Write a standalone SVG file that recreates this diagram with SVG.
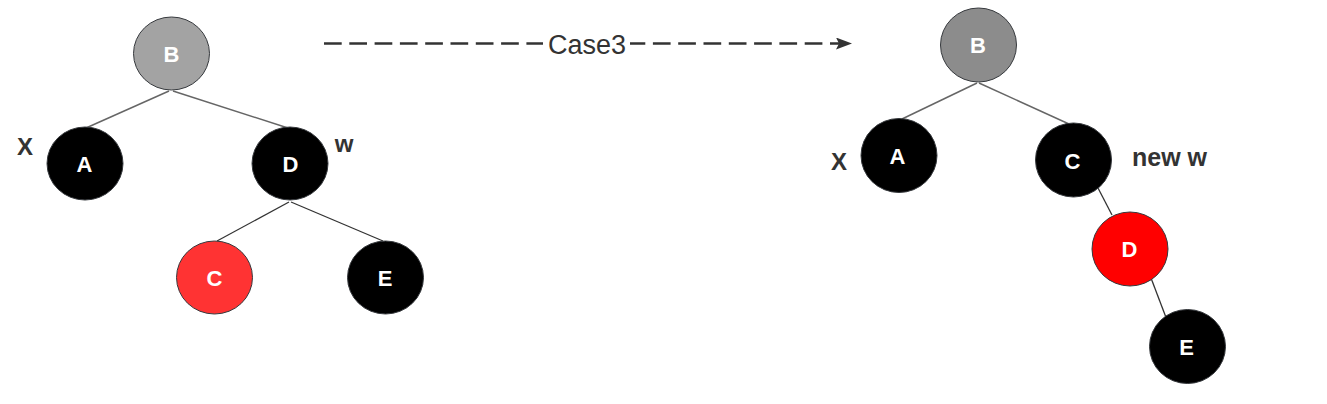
<svg xmlns="http://www.w3.org/2000/svg" width="1327" height="404" viewBox="0 0 1327 404">
<defs>
<style>
.node{stroke:#36393d;stroke-width:1}
.blk{fill:#000000}
.lbl{font-family:"Liberation Sans",Arial,sans-serif;font-weight:bold;font-size:22px;fill:#ffffff;text-anchor:middle}
.side{font-family:"Liberation Sans",Arial,sans-serif;font-weight:bold;font-size:24px;fill:#333333}
.edge{fill:none;stroke:#666666;stroke-width:1.5}
.edge2{fill:none;stroke:#333333;stroke-width:1.3}
.case{font-family:"Liberation Sans",Arial,sans-serif;font-size:27px;fill:#333333;text-anchor:middle}
</style>
<marker id="arr" viewBox="0 0 16 12" refX="16" refY="6" markerWidth="16" markerHeight="12" markerUnits="userSpaceOnUse" orient="auto">
<path d="M0,0 L16,6 L0,12 L3,6 Z" fill="#333333"/>
</marker>
</defs>
<rect width="1327" height="404" fill="#ffffff"/>
<g id="connectors">
<line class="edge" x1="169" y1="91" x2="86" y2="128"/>
<line class="edge" x1="173" y1="91" x2="288" y2="128"/>
<line class="edge2" x1="289" y1="202" x2="217" y2="241"/>
<line class="edge2" x1="291" y1="202" x2="383" y2="241"/>
<line class="edge" x1="977" y1="83" x2="902" y2="119"/>
<line class="edge" x1="979" y1="83" x2="1069" y2="124"/>
<line class="edge2" x1="1098" y1="188" x2="1112" y2="215"/>
<line class="edge2" x1="1151" y1="278" x2="1170" y2="328"/>
<line x1="324" y1="43.5" x2="852" y2="43.5" stroke="#333333" stroke-width="2.6" stroke-dasharray="17.7 7.6" marker-end="url(#arr)"/>
<rect x="543" y="28" width="87" height="30" fill="#ffffff"/>
<text class="case" x="587" y="54">Case3</text>
</g>
<g id="L_B"><ellipse class="node" cx="171.5" cy="53.5" rx="38" ry="36.5" fill="#a3a3a3"/><text class="lbl" x="171.5" y="61.5">B</text></g>
<g id="L_A"><ellipse class="node blk" cx="85" cy="163.5" rx="38" ry="36.5"/><text class="lbl" x="84.5" y="172">A</text></g>
<g id="L_D"><ellipse class="node blk" cx="290" cy="163.5" rx="38" ry="36.5"/><text class="lbl" x="290.5" y="172">D</text></g>
<g id="L_C"><ellipse class="node" cx="214.5" cy="277.5" rx="38" ry="36.5" fill="#ff3333"/><text class="lbl" x="214.5" y="286">C</text></g>
<g id="L_E"><ellipse class="node blk" cx="385.5" cy="277.5" rx="38" ry="36.5"/><text class="lbl" x="385" y="286">E</text></g>
<g id="L_X"><text class="side" x="25" y="155" text-anchor="middle">X</text></g>
<g id="L_w"><text class="side" x="344" y="152" text-anchor="middle">w</text></g>
<g id="R_B"><ellipse class="node" cx="978.5" cy="45" rx="38" ry="37" fill="#8c8c8c"/><text class="lbl" x="978" y="53">B</text></g>
<g id="R_A"><ellipse class="node blk" cx="899" cy="155.5" rx="38" ry="37"/><text class="lbl" x="897.5" y="164">A</text></g>
<g id="R_C"><ellipse class="node blk" cx="1073.5" cy="160" rx="38" ry="37"/><text class="lbl" x="1072.5" y="169">C</text></g>
<g id="R_D"><ellipse class="node" cx="1130" cy="249" rx="38" ry="37" fill="#ff0000"/><text class="lbl" x="1129.5" y="257">D</text></g>
<g id="R_E"><ellipse class="node blk" cx="1187.5" cy="346.5" rx="38" ry="37"/><text class="lbl" x="1186.5" y="355">E</text></g>
<g id="R_X"><text class="side" x="839" y="170" text-anchor="middle">X</text></g>
<g id="R_neww"><text class="side" x="1132" y="166" style="font-size:25px">new w</text></g>
</svg>
